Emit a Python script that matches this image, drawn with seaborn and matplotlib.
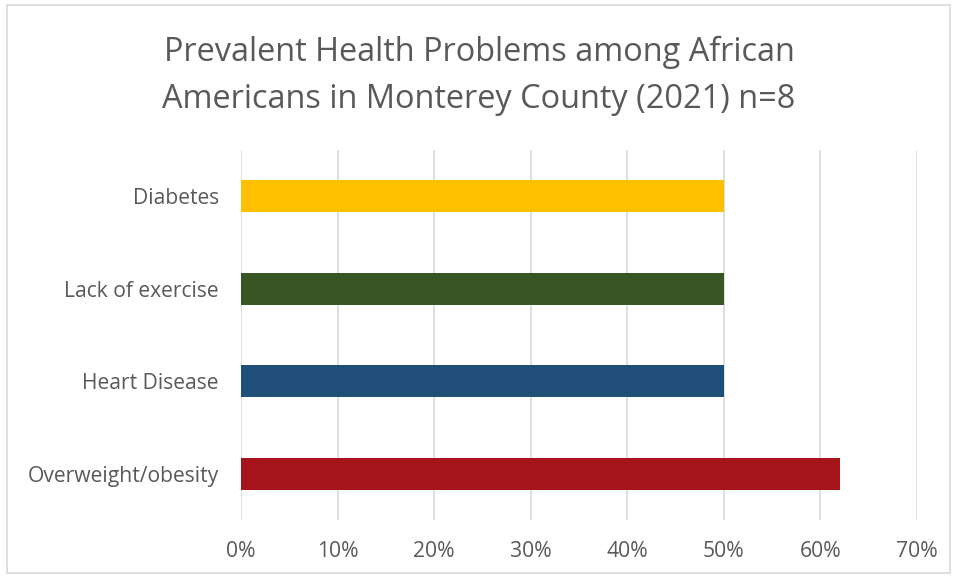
import matplotlib
matplotlib.use("Agg")
import matplotlib.pyplot as plt
import seaborn as sns
import pandas as pd
from matplotlib.patches import Rectangle
from matplotlib.ticker import FuncFormatter

categories = ["Diabetes", "Lack of exercise", "Heart Disease", "Overweight/obesity"]
values = [50, 50, 50, 62]
colors = ["#FFC000", "#375623", "#1F4E79", "#A5141A"]
xticks = [0, 10, 20, 30, 40, 50, 60, 70]
title = "Prevalent Health Problems among African\nAmericans in Monterey County (2021) n=8"

sns.set_theme(style="white")
plt.rcParams["font.family"] = ["Open Sans", "DejaVu Sans"]

df = pd.DataFrame({"cat": categories, "val": values})

fig = plt.figure(figsize=(9.58, 5.78), dpi=100)
ax = fig.add_axes([241/958, 1-520/578, (917-241)/958, 370/578])

sns.barplot(data=df, x="val", y="cat", hue="cat", palette=colors, legend=False,
            width=0.35, ax=ax, saturation=1, edgecolor="none")

ax.set_xlim(0, 70)
ax.set_ylim(3.5, -0.5)
ax.set_xticks(xticks)
ax.xaxis.set_major_formatter(FuncFormatter(lambda v, p: f"{int(v)}%"))
ax.grid(axis="x", color="#D9D9D9", linewidth=1.2)
ax.set_axisbelow(True)
for s in ax.spines.values():
    s.set_visible(False)
ax.set_xlabel("")
ax.set_ylabel("")
ax.tick_params(axis="both", length=0, labelsize=15.2, colors="#595959")
ax.tick_params(axis="x", pad=15)
ax.tick_params(axis="y", pad=16)

fig.text(0.5, 1-76/578, title, ha="center", va="center", fontsize=23.4,
         color="#595959", linespacing=1.55)

fig.patches.append(Rectangle((7/958, 1-573/578), (950-7)/958, (573-5)/578,
                             transform=fig.transFigure, fill=False,
                             edgecolor="#D9D9D9", linewidth=1.2))

fig.savefig("out.png", dpi=100)
